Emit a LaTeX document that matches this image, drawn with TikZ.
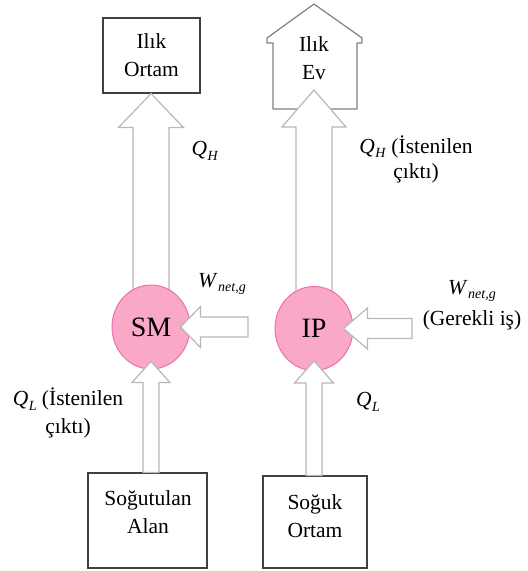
\documentclass[tikz,border=0pt]{standalone}
\usepackage{fontspec}
\setmainfont{Liberation Serif}
\usetikzlibrary{shapes.geometric,calc}
\definecolor{boxc}{HTML}{404040}
\definecolor{housec}{HTML}{808080}
\definecolor{arrc}{HTML}{B8B8B8}
\definecolor{pinkf}{HTML}{F9A8C8}
\definecolor{pinkd}{HTML}{EC6FAE}
\newcommand\qsym[2]{\textit{#1}\kern0.5pt\raisebox{-0.22em}{\fontsize{14}{14}\selectfont\textit{#2}}}
\newcommand\upfat[5]{\draw[fat] let \p1=(#1), \p2=(#2) in
  (\x2,\y2) -- (\x2+#4pt,\y2-#5pt) -- (\x2+#3pt,\y2-#5pt) -- (\x2+#3pt,\y1)
  -- (\x2-#3pt,\y1) -- (\x2-#3pt,\y2-#5pt) -- (\x2-#4pt,\y2-#5pt) -- cycle;}
\newcommand\leftfat[5]{\draw[fat] let \p1=(#1), \p2=(#2) in
  (\x2,\y2) -- (\x2+#5pt,\y2+#4pt) -- (\x2+#5pt,\y2+#3pt) -- (\x1,\y2+#3pt)
  -- (\x1,\y2-#3pt) -- (\x2+#5pt,\y2-#3pt) -- (\x2+#5pt,\y2-#4pt) -- cycle;}
\begin{document}
\begin{tikzpicture}[x=1pt,y=-1pt,
  every node/.style={font=\fontsize{21.5}{28}\selectfont, inner sep=0pt, align=center},
  boxn/.style={draw=boxc, line width=1.1pt, fill=white},
  fat/.style={draw=arrc, line width=1.2pt, fill=white, line join=miter},
  cyc/.style={ellipse, draw=pinkd, fill=pinkf, line width=1pt,
    minimum width=78pt, minimum height=84pt, font=\fontsize{28}{32}\selectfont}]
\useasboundingbox (0,0) rectangle (528,571);

% top boxes
\node[boxn, minimum width=97pt, minimum height=75pt] (box1) at (151.5,55.5) {Ilık\\Ortam};
\draw[draw=housec, line width=1.2pt, fill=white, line join=round]
  (314,4) -- (362,38) -- (362,43) -- (357,43) -- (357,109) -- (273,109)
  -- (273,43) -- (267,43) -- (267,38) -- cycle;
\node (house) at (314,58) {Ilık\\Ev};
\coordinate (hin) at (314,90);

% bottom boxes
\node[boxn, minimum width=119pt, minimum height=95pt] (box3) at (147.5,520.5) {};
\node (t3) at (148,512) {Soğutulan\\Alan};
\node[boxn, minimum width=104pt, minimum height=92pt] (box4) at (315,522) {};
\node (t4) at (315,516) {Soğuk\\Ortam};

% circles centres
\coordinate (smc) at (151,327);
\coordinate (ipc) at (314,328.5);

% big upward arrows
\coordinate (tipl) at (smc |- box1.south);
\upfat{smc}{tipl}{18}{32.5}{34}
\upfat{ipc}{hin}{18}{32}{37}

% machines
\node[cyc] (sm) at (smc) {SM};
\node[cyc] (ip) at (ipc) {IP};

% work arrows
\coordinate (wlt) at (248,327);
\coordinate (wrt) at (412,327);
\coordinate (wltip) at ($(sm.east)+(-10,0)$);
\coordinate (wrtip) at ($(ip.east)+(-10,0)$);
\leftfat{wlt}{wltip}{10}{20.5}{20}
\leftfat{wrt}{wrtip}{10}{20.5}{24}

% bottom upward arrows
\coordinate (bltip) at ($(sm.south)+(0,-8)$);
\coordinate (brtip) at ($(ip.south)+(0,-10)$);
\upfat{box3.north}{bltip}{8}{19}{21}
\upfat{box4.north}{brtip}{8}{19.5}{22}

% labels
\node (qh1) at (205,151) {\qsym{Q}{H}};
\node[font=\fontsize{21.5}{25}\selectfont] (qh2) at (416,159) {\qsym{Q}{H} (İstenilen\\çıktı)};
\node (wl) at (222,284) {\qsym{W}{net,g}};
\node (wr) at (472,305) {\qsym{W}{net,g}\\[3pt](Gerekli iş)};
\node (ql1) at (68,413) {\qsym{Q}{L} (İstenilen\\çıktı)};
\node (ql2) at (368,402) {\qsym{Q}{L}};
\end{tikzpicture}
\end{document}
